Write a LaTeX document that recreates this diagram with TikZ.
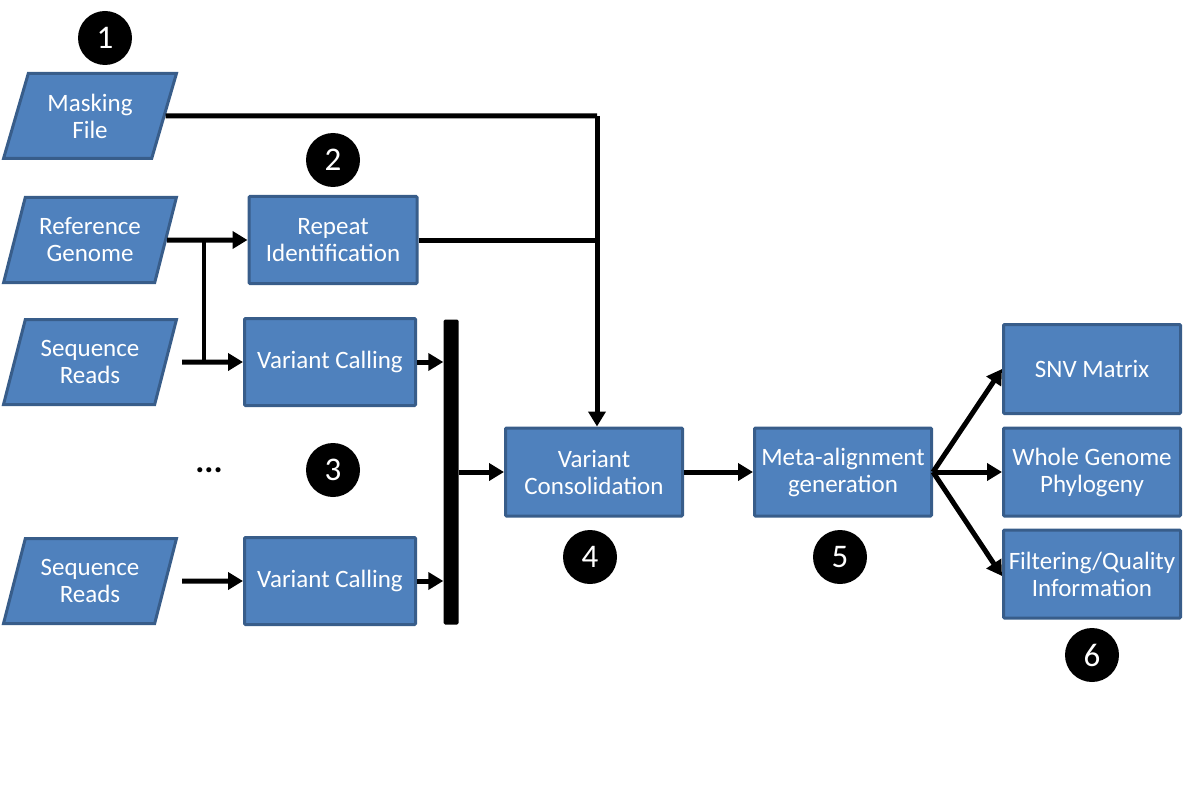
\documentclass[tikz,border=0pt]{standalone}
\usepackage{fontspec}
\setmainfont{Carlito}
\usepackage{tikz}
\usetikzlibrary{shapes.geometric, positioning, arrows.meta}

\definecolor{boxfill}{HTML}{4F81BD}
\definecolor{boxline}{HTML}{385D8A}

\begin{document}
\begin{tikzpicture} [x = 1pt, y = -1pt, on grid,
        every node/.style = {font = \fontsize{25}{27}\selectfont},
        procbox/.style = {draw = boxline, fill = boxfill, line width = 3pt,
            text = white, align = center, rounded corners = 1pt,
            minimum width = 177pt, minimum height = 87pt, inner sep = 0pt},
        datafile/.style = {procbox, trapezium, trapezium left angle = 69,
            trapezium right angle = 111, trapezium stretches = true,
            rounded corners = 0pt, minimum width = 173pt, minimum height = 85pt},
        marker/.style = {circle, fill = black, text = white, inner sep = 0pt,
            minimum size = 54pt, font = \fontsize{33}{33}\selectfont},
        flow/.style = {line width = 5pt, -{Triangle[length = 15pt, width = 17pt]}}]

        \useasboundingbox (0,0) rectangle (1196,805);

        % inputs
        \node (mask) [datafile] at (90,116) {Masking\\File};
        \node (ref) [datafile, below = 124pt of mask] {Reference\\Genome};
        \node (seq1) [datafile, below = 122pt of ref] {Sequence\\Reads};
        \node (seq2) [datafile, below = 219pt of seq1] {Sequence\\Reads};

        % steps
        \node (rep) [procbox, minimum width = 168pt, right = 243pt of ref] {Repeat\\Identification};
        \node (vc1) [procbox, minimum width = 171pt, right = 240pt of seq1] {Variant Calling};
        \node (vc2) [procbox, minimum width = 171pt, right = 240pt of seq2] {Variant Calling};
        \node (bar) [fill = black, rounded corners = 1.5pt, minimum width = 15pt,
            minimum height = 305pt, inner sep = 0pt] at (451,472) {};
        \node (cons) [procbox, minimum height = 88pt] at (594,472) {Variant\\Consolidation};
        \node (meta) [procbox, minimum height = 88pt, right = 249pt of cons] {Meta-alignment\\generation};
        \node (whole) [procbox, minimum height = 88pt, right = 249pt of meta] {Whole Genome\\Phylogeny};
        \node (snv) [procbox, minimum height = 89pt, above = 103pt of whole] {SNV Matrix};
        \node (filt) [procbox, minimum height = 88pt, below = 102pt of whole] {Filtering/Quality\\Information};

        \node (dots) [font = \fontsize{34}{34}\selectfont] at (209,470) {\textbf{...}};

        % numbers
        \node (n1) [marker] at (105,38) {1};
        \node (n2) [marker, above = 80pt of rep] {2};
        \node (n3) [marker] at (333,470) {3};
        \node (n4) [marker] at (590,557) {4};
        \node (n5) [marker] at (840,557) {5};
        \node (n6) [marker, below = 81pt of filt] {6};

        \coordinate (jm) at (597,116);
        \coordinate (jr) at (597,240);
        \coordinate (br) at (204,240);

        \draw [line width = 5pt] (mask.east) -- (jm);
        \draw [line width = 5pt] (rep.east) -- (jr);
        \draw [flow] (jm) -- (jm |- cons.north);
        \draw [flow] (ref.east) -- (rep.west);
        \draw [line width = 4pt] (br) -- (br |- vc1.west);
        \draw [flow] ([xshift = 15pt]seq1.east) -- (vc1.west);
        \draw [flow] ([xshift = 15pt]seq2.east) -- (vc2.west);
        \draw [flow] (vc1.east) -- (vc1.east -| bar.west);
        \draw [flow] (vc2.east) -- (vc2.east -| bar.west);
        \draw [flow] (bar.east |- cons.west) -- (cons.west);
        \draw [flow] (cons.east) -- (meta.east -| meta.west);
        \path [flow]
            (meta.east) edge (snv.west)
            (meta.east) edge (whole.west)
            (meta.east) edge ([yshift = -2pt]filt.west);

    \end{tikzpicture}
\end{document}
